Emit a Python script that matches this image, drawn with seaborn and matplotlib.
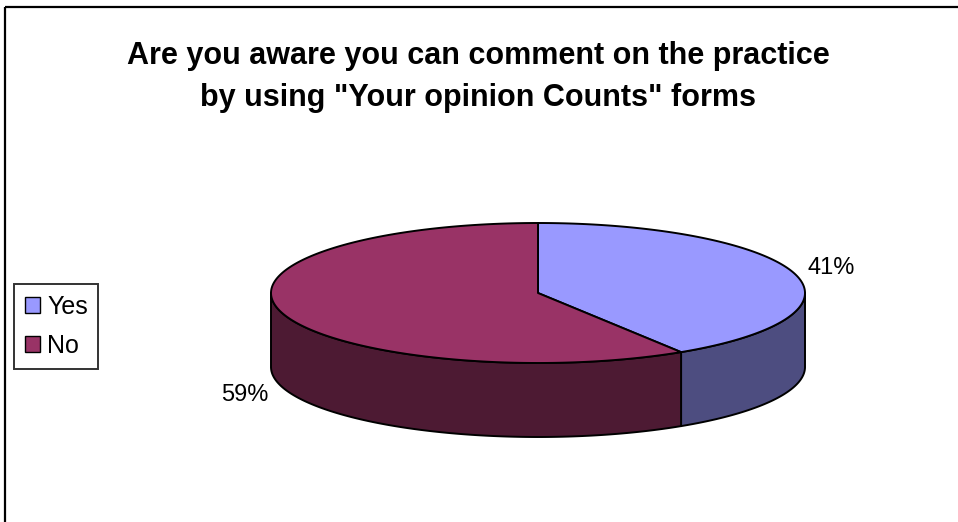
import numpy as np
import matplotlib
matplotlib.use("Agg")
import matplotlib.pyplot as plt
from matplotlib.patches import Polygon, Rectangle, Patch
import seaborn as sns

# Survey answers
categories = ["Yes", "No"]
shares = [41, 59]
top_colors = ["#9999FF", "#993366"]
side_colors = ["#4D4D80", "#4D1A33"]
title = 'Are you aware you can comment on the practice\nby using "Your opinion Counts" forms'

sns.set_style("white")
plt.rcParams["font.family"] = ["Liberation Sans", "DejaVu Sans"]
plt.rcParams["text.color"] = "black"

W, H = 958, 522
fig = plt.figure(figsize=(W / 100, H / 100), dpi=100)
ax = fig.add_axes([0, 0, 1, 1])
ax.set_xlim(0, W)
ax.set_ylim(H, 0)
ax.axis("off")

# chart frame (runs off the right and bottom edges)
ax.add_patch(Rectangle((5, 7), W + 20, H + 20, fill=False, ec="black", lw=1.6, zorder=1))

# 3D pie geometry, in pixel units
cx, cy = 538, 293      # centre of the top face
rx, ry = 267, 70       # ellipse radii
depth = 74             # height of the cylinder wall


def pt(theta, dy=0.0):
    """Point on the ellipse; theta in degrees, clockwise from 12 o'clock."""
    t = np.radians(theta)
    return cx + rx * np.sin(t), cy - ry * np.cos(t) + dy


fracs = np.array(shares, dtype=float) / sum(shares)
edges = np.concatenate([[0.0], np.cumsum(fracs) * 360.0])

# walls: only the front half (90..270 deg) is visible
for i in range(len(categories)):
    a0, a1 = max(edges[i], 90.0), min(edges[i + 1], 270.0)
    if a1 <= a0:
        continue
    th = np.linspace(a0, a1, 200)
    upper = [pt(t) for t in th]
    lower = [pt(t, depth) for t in th[::-1]]
    ax.add_patch(Polygon(upper + lower, closed=True, fc=side_colors[i],
                         ec="black", lw=1.4, joinstyle="round", zorder=2))

# top faces
for i in range(len(categories)):
    th = np.linspace(edges[i], edges[i + 1], 300)
    verts = [(cx, cy)] + [pt(t) for t in th]
    ax.add_patch(Polygon(verts, closed=True, fc=top_colors[i],
                         ec="black", lw=1.4, joinstyle="round", zorder=3))

# percentage labels
label_pos = [(831, 268), (245, 395)]
for (x, y), s in zip(label_pos, shares):
    ax.text(x, y, f"{s}%", ha="center", va="center", fontsize=17, color="black", zorder=4)

ax.text(478, 77, title, ha="center", va="center", fontsize=22, fontweight="bold",
        color="black", linespacing=1.5, zorder=4)

handles = [Patch(fc=c, ec="black", lw=1.0) for c in top_colors]
leg = ax.legend(handles, categories, loc="upper left",
                bbox_to_anchor=(14 / W, 1 - 284 / H), bbox_transform=fig.transFigure,
                frameon=True, fancybox=False, shadow=False, fontsize=18,
                handlelength=0.6, handleheight=0.6, handletextpad=0.3,
                labelspacing=0.62, borderpad=0.42, borderaxespad=0)
leg.get_frame().set_edgecolor("black")
leg.get_frame().set_linewidth(1.4)
for t in leg.get_texts():
    t.set_color("black")

fig.savefig("out.png", dpi=100, facecolor="white")
